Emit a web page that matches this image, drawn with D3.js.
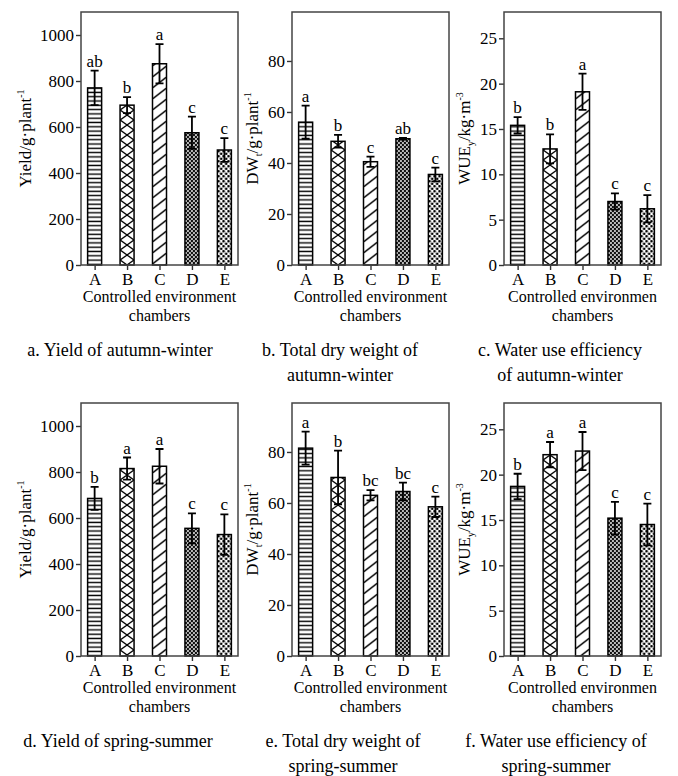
<!DOCTYPE html>
<html>
<head>
<meta charset="utf-8">
<script src="https://cdn.jsdelivr.net/npm/d3@7"></script>
<style>
  body { margin: 0; background: #fff; }
  text { font-family: "Liberation Serif", "Times New Roman", serif; fill: #000; }
</style>
</head>
<body>
<script>
var chambers = ["A", "B", "C", "D", "E"];

// autumn-winter
var yieldAW = [770, 695, 875, 575, 500];
var yieldAWErr = [75, 35, 85, 70, 52];
var yieldAWSig = ["ab", "b", "a", "c", "c"];
var dwAW = [56, 48.5, 40.5, 49.5, 35.5];
var dwAWErr = [6.5, 2.5, 2, 0.3, 2.7];
var dwAWSig = ["a", "b", "c", "ab", "c"];
var wueAW = [15.4, 12.8, 19.1, 7.0, 6.2];
var wueAWErr = [0.9, 1.6, 2.0, 0.9, 1.5];
var wueAWSig = ["b", "b", "a", "c", "c"];

// spring-summer
var yieldSS = [685, 815, 825, 555, 528];
var yieldSSErr = [50, 48, 75, 65, 88];
var yieldSSSig = ["b", "a", "a", "c", "c"];
var dwSS = [81.5, 70, 63, 64.5, 58.5];
var dwSSErr = [6.5, 10.5, 2, 3.5, 4];
var dwSSSig = ["a", "b", "bc", "bc", "c"];
var wueSS = [18.7, 22.2, 22.6, 15.2, 14.5];
var wueSSErr = [1.4, 1.4, 2.1, 1.8, 2.3];
var wueSSSig = ["b", "a", "a", "c", "c"];

var yieldTicks = [0, 200, 400, 600, 800, 1000];
var dwTicks = [0, 20, 40, 60, 80];
var wueTicks = [0, 5, 10, 15, 20, 25];

var xTitle = ["Controlled environment", "Controlled environment", "Controlled environmen"];
var captionsAW = [["a. Yield of autumn-winter"], ["b. Total dry weight of", "autumn-winter"], ["c. Water use efficiency", "of autumn-winter"]];
var captionsSS = [["d. Yield of spring-summer"], ["e. Total dry weight of", "spring-summer"], ["f. Water use efficiency of", "spring-summer"]];

var W = 678, H = 776;
var colLeft = [81, 292, 504];
var colWidth = 157;
var rowTop = [12, 403];
var plotH = 253;
var titleX = [25, 252, 464];
var captionX = [[120, 340, 560], [118, 343, 556]];
var barW = 14;

var svg = d3.select("body").append("svg")
    .attr("width", W)
    .attr("height", H);

svg.append("rect").attr("width", W).attr("height", H).attr("fill", "#fff");

var defs = svg.append("defs");

// fill patterns, one per chamber
var pA = defs.append("pattern").attr("id", "pat0")
    .attr("patternUnits", "userSpaceOnUse").attr("width", barW).attr("height", 4.3);
pA.append("rect").attr("width", barW).attr("height", 4.3).attr("fill", "#fff");
pA.append("line").attr("x1", 0).attr("x2", barW).attr("y1", 2.1).attr("y2", 2.1)
    .attr("stroke", "#000").attr("stroke-width", 1.4);

var pB = defs.append("pattern").attr("id", "pat1")
    .attr("patternUnits", "userSpaceOnUse").attr("width", barW).attr("height", 10);
pB.append("rect").attr("width", barW).attr("height", 10).attr("fill", "#fff");
pB.append("path").attr("d", "M0,0L14,10M14,0L0,10")
    .attr("stroke", "#000").attr("stroke-width", 1.4).attr("fill", "none");

var pC = defs.append("pattern").attr("id", "pat2")
    .attr("patternUnits", "userSpaceOnUse").attr("width", barW).attr("height", 11);
pC.append("rect").attr("width", barW).attr("height", 11).attr("fill", "#fff");
pC.append("path").attr("d", "M0,11L14,0M-2,1.6L0,0M14,11L16,9.4")
    .attr("stroke", "#000").attr("stroke-width", 1.4).attr("fill", "none");

var pD = defs.append("pattern").attr("id", "pat3")
    .attr("patternUnits", "userSpaceOnUse").attr("width", 4).attr("height", 4);
pD.append("rect").attr("width", 4).attr("height", 4).attr("fill", "#111");
pD.append("circle").attr("cx", 1).attr("cy", 1).attr("r", 0.95).attr("fill", "#fff");
pD.append("circle").attr("cx", 3).attr("cy", 3).attr("r", 0.95).attr("fill", "#fff");

var pE = defs.append("pattern").attr("id", "pat4")
    .attr("patternUnits", "userSpaceOnUse").attr("width", 5).attr("height", 5);
pE.append("rect").attr("width", 5).attr("height", 5).attr("fill", "#fff");
pE.append("circle").attr("cx", 1.25).attr("cy", 1.25).attr("r", 1.3).attr("fill", "#000");
pE.append("circle").attr("cx", 3.75).attr("cy", 3.75).attr("r", 1.3).attr("fill", "#000");

var drawPanel = function(row, col, values, errs, sigs, yMax, ticks, titleParts) {
    var left = colLeft[col], top = rowTop[row];
    var bottom = top + plotH;

    var x = d3.scalePoint().domain(chambers)
        .range([left, left + colWidth]).padding(0.42);
    var y = d3.scaleLinear().domain([0, yMax]).range([bottom, top]);

    var data = chambers.map(function(c, i) {
        return {name: c, i: i, v: values[i], e: errs[i], s: sigs[i]};
    });

    var g = svg.append("g");

    var bars = g.selectAll(".bar").data(data).enter().append("g")
        .attr("transform", function(d) {
            return "translate(" + (x(d.name) - barW / 2) + ",0)";
        });

    bars.append("rect")
        .attr("x", 0)
        .attr("y", function(d) { return y(d.v); })
        .attr("width", barW)
        .attr("height", function(d) { return bottom - y(d.v); })
        .attr("fill", function(d) { return "url(#pat" + d.i + ")"; })
        .attr("stroke", "#000")
        .attr("stroke-width", 1.5);

    // error bars
    bars.append("path")
        .attr("d", function(d) {
            var c = barW / 2;
            var y1 = y(d.v + d.e), y0 = y(d.v - d.e);
            return "M" + c + "," + y0 + "V" + y1 +
                "M" + (c - 4) + "," + y1 + "H" + (c + 4) +
                "M" + (c - 4) + "," + y0 + "H" + (c + 4);
        })
        .attr("stroke", "#000")
        .attr("stroke-width", 1.8)
        .attr("fill", "none");

    bars.append("text")
        .attr("x", barW / 2)
        .attr("y", function(d) { return y(d.v + d.e) - 4; })
        .attr("text-anchor", "middle")
        .style("font-size", "17px")
        .text(function(d) { return d.s; });

    // axes
    var yAxis = g.append("g")
        .attr("transform", "translate(" + left + ",0)")
        .call(d3.axisLeft(y).tickValues(ticks).tickSize(5).tickPadding(2).tickFormat(d3.format("d")));
    var xAxis = g.append("g")
        .attr("transform", "translate(0," + bottom + ")")
        .call(d3.axisBottom(x).tickSize(5).tickPadding(3));

    [yAxis, xAxis].forEach(function(a) {
        a.select(".domain").remove();
        a.selectAll("line").attr("stroke", "#333").attr("stroke-width", 1.4);
        a.selectAll("text")
            .style("font-family", "'Liberation Serif', 'Times New Roman', serif")
            .style("font-size", "17px")
            .attr("fill", "#000");
    });

    g.append("rect")
        .attr("x", left)
        .attr("y", top)
        .attr("width", colWidth)
        .attr("height", plotH)
        .attr("fill", "none")
        .attr("stroke", "#444")
        .attr("stroke-width", 1.5);

    // y title
    var t = g.append("text")
        .attr("transform", "translate(" + titleX[col] + "," + (top + plotH / 2) + ") rotate(-90)")
        .attr("text-anchor", "middle")
        .attr("dy", "0.35em")
        .style("font-size", "17px");
    titleParts.forEach(function(p) {
        var ts = t.append("tspan").text(p[0]);
        if (p[1] === "sup") {
            ts.style("font-size", "10px").attr("dy", -7);
        } else if (p[1] === "sub") {
            ts.style("font-size", "10px").attr("dy", 4);
        } else if (p[1] === "back-sub") {
            ts.attr("dy", -4);
        }
    });

    // x title
    var cx = left + colWidth / 2;
    g.append("text")
        .attr("x", cx).attr("y", bottom + 37)
        .attr("text-anchor", "middle")
        .style("font-size", "16px")
        .text(xTitle[col]);
    g.append("text")
        .attr("x", cx).attr("y", bottom + 56)
        .attr("text-anchor", "middle")
        .style("font-size", "16px")
        .text("chambers");

    // caption
    var caps = row === 0 ? captionsAW : captionsSS;
    caps[col].forEach(function(line, k) {
        g.append("text")
            .attr("x", captionX[row][col])
            .attr("y", bottom + 91 + k * 25)
            .attr("text-anchor", "middle")
            .style("font-size", "18px")
            .text(line);
    });
};

var yieldTitle = [["Yield/g·plant"], ["-1", "sup"]];
var dwTitle = [["DW"], ["t", "sub"], ["/g·plant", "back-sub"], ["-1", "sup"]];
var wueTitle = [["WUE"], ["y", "sub"], ["/kg·m", "back-sub"], ["-3", "sup"]];

drawPanel(0, 0, yieldAW, yieldAWErr, yieldAWSig, 1100, yieldTicks, yieldTitle);
drawPanel(0, 1, dwAW, dwAWErr, dwAWSig, 99.2, dwTicks, dwTitle);
drawPanel(0, 2, wueAW, wueAWErr, wueAWSig, 27.9, wueTicks, wueTitle);
drawPanel(1, 0, yieldSS, yieldSSErr, yieldSSSig, 1100, yieldTicks, yieldTitle);
drawPanel(1, 1, dwSS, dwSSErr, dwSSSig, 99.2, dwTicks, dwTitle);
drawPanel(1, 2, wueSS, wueSSErr, wueSSSig, 27.9, wueTicks, wueTitle);
</script>
</body>
</html>
